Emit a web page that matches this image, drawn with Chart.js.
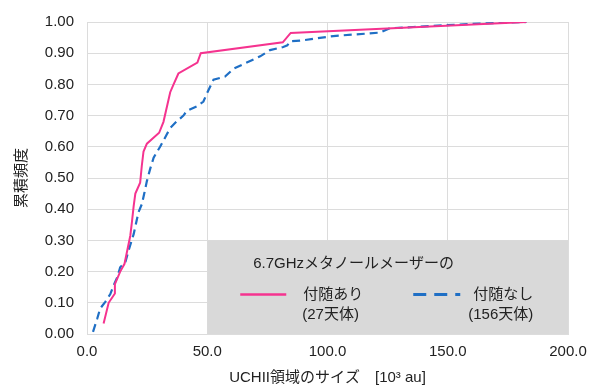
<!DOCTYPE html>
<html>
<head>
<meta charset="utf-8">
<script src="https://cdn.jsdelivr.net/npm/chart.js@4.4.1/dist/chart.umd.min.js"></script>
<style>
  html, body { margin: 0; padding: 0; background: #fff; }
  #wrap { width: 600px; height: 390px; position: relative; }
</style>
</head>
<body>
<div id="wrap"><canvas id="cdf"></canvas></div>
<script>
// UCHII size [10^3 au] vs cumulative frequency
const withSize = [6.9, 9.0, 11.6, 11.6, 13.8, 15.6, 18.0, 18.7, 19.4, 20.1, 22.1, 22.8, 23.5, 24.9, 30.0, 31.8, 34.6, 36.0, 38.0, 45.9, 47.3, 81.4, 84.7, 182.7];
const withFreq = [0.034, 0.10, 0.13, 0.16, 0.20, 0.225, 0.315, 0.36, 0.41, 0.45, 0.485, 0.54, 0.585, 0.61, 0.645, 0.68, 0.775, 0.80, 0.835, 0.87, 0.90, 0.935, 0.965, 1.0];

const withoutSize = [2.5, 4.2, 5.5, 7.6, 9.7, 11.3, 12.6, 13.8, 15.9, 17.3, 19.4, 21.4, 22.8, 23.8, 24.9, 26.3, 27.7, 29.2, 30.4, 33.2, 34.6, 37.1, 40.1, 41.5, 45.7, 48.4, 49.8, 52.6, 57.4, 60.9, 72.0, 76.1, 81.6, 83.3, 84.4, 88.6, 102.4, 121.8, 126.0, 135.6, 149.5, 163.3, 182.7];
const withoutFreq = [0.007, 0.048, 0.082, 0.103, 0.128, 0.16, 0.182, 0.214, 0.229, 0.268, 0.32, 0.39, 0.416, 0.45, 0.49, 0.53, 0.565, 0.585, 0.60, 0.64, 0.66, 0.68, 0.70, 0.715, 0.73, 0.745, 0.77, 0.815, 0.825, 0.85, 0.89, 0.91, 0.92, 0.925, 0.938, 0.94, 0.955, 0.966, 0.98, 0.984, 0.99, 0.995, 1.0];

const legendTitle = "6.7GHzメタノールメーザーの";
const withLabel = ["付随あり", "(27天体)"];
const withoutLabel = ["付随なし", "(156天体)"];

const pink = "#f5338f";
const blue = "#1f6fc5";
const gridColor = "#dcdcdc";
const textColor = "#222";
const fontFamily = '"Liberation Sans", "Noto Sans CJK JP", sans-serif';

const toPoints = (xs, ys) => xs.map((x, i) => ({ x: x, y: ys[i] }));

// gray legend box sitting inside the plot, lower right
const legendBox = {
  id: "legendBox",
  afterDatasetsDraw(chart) {
    const { ctx, scales } = chart;
    const left = scales.x.getPixelForValue(50);
    const right = scales.x.getPixelForValue(200);
    const top = scales.y.getPixelForValue(0.3);
    const bottom = scales.y.getPixelForValue(0);
    ctx.save();
    ctx.fillStyle = "#d9d9d9";
    ctx.fillRect(left, top, right - left, bottom - top);

    ctx.fillStyle = textColor;
    ctx.font = "15px " + fontFamily;
    ctx.textBaseline = "middle";
    ctx.textAlign = "left";
    ctx.fillText(legendTitle, left + 46, top + 23);

    // pink sample
    ctx.strokeStyle = pink;
    ctx.lineWidth = 2.5;
    ctx.beginPath();
    ctx.moveTo(left + 33, top + 54);
    ctx.lineTo(left + 79, top + 54);
    ctx.stroke();
    ctx.fillText(withLabel[0], left + 96, top + 54);
    ctx.fillText(withLabel[1], left + 95, top + 74);

    // blue sample
    ctx.strokeStyle = blue;
    ctx.lineWidth = 3;
    ctx.setLineDash([13, 8]);
    ctx.beginPath();
    ctx.moveTo(left + 206, top + 54);
    ctx.lineTo(left + 253, top + 54);
    ctx.stroke();
    ctx.setLineDash([]);
    ctx.fillText(withoutLabel[0], left + 266, top + 54);
    ctx.fillText(withoutLabel[1], left + 261, top + 74);
    ctx.restore();
  },
};

const ctxCdf = document.getElementById("cdf").getContext("2d");
new Chart(ctxCdf, {
  type: "scatter",
  data: {
    datasets: [
      {
        label: "付随あり",
        data: toPoints(withSize, withFreq),
        showLine: true,
        borderColor: pink,
        borderWidth: 2,
        pointRadius: 0,
        tension: 0,
      },
      {
        label: "付随なし",
        data: toPoints(withoutSize, withoutFreq),
        showLine: true,
        borderColor: blue,
        borderWidth: 2.2,
        borderDash: [8, 5],
        pointRadius: 0,
        tension: 0,
      },
    ],
  },
  options: {
    responsive: true,
    maintainAspectRatio: false,
    animation: false,
    layout: { padding: { top: 20, right: 32, left: 0, bottom: 0 } },
    plugins: {
      legend: { display: false },
      tooltip: { enabled: false },
    },
    scales: {
      x: {
        type: "linear",
        min: 0,
        max: 200,
        grid: { color: gridColor, drawTicks: false },
        border: { color: gridColor },
        ticks: {
          stepSize: 50,
          padding: 9,
          color: textColor,
          font: { size: 15, family: fontFamily },
          callback: (v) => v.toFixed(1),
        },
        title: {
          display: true,
          text: "UCHII領域のサイズ　[10³ au]",
          color: textColor,
          font: { size: 15, family: fontFamily },
          padding: { top: 0, bottom: 3 },
        },
        afterFit: (scale) => { scale.height = 56; },
      },
      y: {
        min: 0,
        max: 1,
        grid: { color: gridColor, drawTicks: false },
        border: { color: gridColor },
        ticks: {
          stepSize: 0.1,
          padding: 13,
          color: textColor,
          font: { size: 15, family: fontFamily },
          callback: (v) => v.toFixed(2),
        },
        title: {
          display: true,
          text: "累積頻度",
          color: textColor,
          font: { size: 15, family: fontFamily },
          padding: { top: 13, bottom: 0 },
        },
        afterFit: (scale) => { scale.width = 87; },
      },
    },
  },
  plugins: [legendBox],
});
</script>
</body>
</html>
